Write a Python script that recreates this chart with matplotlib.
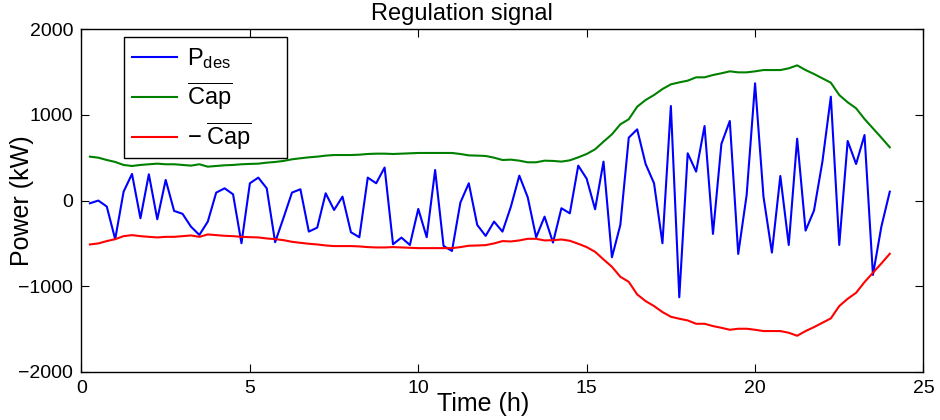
import numpy as np
import matplotlib
matplotlib.use("Agg")
import matplotlib.pyplot as plt
from matplotlib.patches import Rectangle

plt.rcParams['font.family'] = ['Liberation Sans', 'DejaVu Sans']
plt.rcParams['mathtext.fontset'] = 'custom'
plt.rcParams['mathtext.rm'] = 'Liberation Sans'
plt.rcParams['mathtext.it'] = 'Liberation Sans:italic'

# time grid: every 15 minutes from 0.25 h to 24 h
hours = np.arange(1, 97) * 0.25

p_des = [-32, 0, -70, -452, 104, 311, -207, 307, -219, 241, -121, -155,
         -305, -402, -246, 93, 143, 73, -499, 202, 268, 143, -487, -200,
         93, 132, -363, -316, 85, -110, 46, -370, -429, 268, 202, 386,
         -511, -433, -519, -98, -429, 357, -530, -589, -24, 202, -285, -413,
         -246, -363, -71, 291, 38, -429, -188, -491, -90, -149, 408, 255,
         -102, 455, -663, -285, 735, 832, 427, 202, -499, 1105, -1130, 552,
         338, 871, -390, 661, 930, -624, 65, 1370, 46, -608, 287, -519,
         723, -351, -117, 455, 1214, -519, 696, 427, 766, -869, -305, 104]

cap = [513, 501, 474, 451, 416, 404, 416, 424, 431, 424, 424, 416,
       408, 424, 396, 404, 412, 416, 424, 428, 431, 443, 451, 463,
       482, 494, 505, 513, 525, 532, 532, 532, 536, 544, 548, 548,
       544, 548, 552, 556, 556, 556, 556, 556, 544, 528, 525, 521,
       501, 474, 478, 466, 447, 447, 466, 463, 455, 470, 505, 544,
       599, 688, 774, 891, 950, 1097, 1175, 1233, 1303, 1358, 1381, 1401,
       1440, 1440, 1467, 1487, 1510, 1498, 1498, 1510, 1525, 1525, 1525, 1545,
       1580, 1525, 1479, 1428, 1377, 1233, 1148, 1078, 953, 844, 735, 622]

cap = np.array(cap)

fig = plt.figure(figsize=(9.4, 4.2), dpi=100)
ax = fig.add_axes([0.0867, 0.115, 0.8957, 0.815])

ax.plot(hours, p_des, color=(0, 0, 1), lw=1.5, label=r'$\mathrm{P_{des}}$')
ax.plot(hours, cap, color=(0, 0.5, 0), lw=1.5, label=r'$\mathrm{\overline{Cap}}$')
ax.plot(hours, -cap, color=(1, 0, 0), lw=1.5, label=r'$\mathrm{-\;\overline{Cap}}$')

ax.set_xlim(0, 25)
ax.set_ylim(-2000, 2000)
ax.set_xticks([0, 5, 10, 15, 20, 25])
ax.set_yticks([-2000, -1000, 0, 1000, 2000])
ax.tick_params(direction='in', length=6, width=0.8, top=True, right=True,
               labelsize=14, pad=6)
for s in ax.spines.values():
    s.set_linewidth(1.0)

ax.set_xlabel('Time (h)', fontsize=18)
ax.set_ylabel('Power (kW)', fontsize=18)
ax.xaxis.set_label_coords(0.477, -0.058)
ax.yaxis.set_label_coords(-0.056, 0.5)
ax.set_title('Regulation signal', fontsize=17, pad=7, x=0.452)

# MATLAB-style legend box (wider than its contents)
ax.add_patch(Rectangle((0.0505, 0.624), 0.1935, 0.3535, transform=ax.transAxes,
                       facecolor='white', edgecolor='black', lw=1.0, zorder=4))
leg = ax.legend(loc='upper left', bbox_to_anchor=(0.05, 0.975), borderaxespad=0,
                fontsize=17, frameon=False,
                handlelength=1.9, handletextpad=0.45, labelspacing=0.4,
                borderpad=0.35)
leg.set_zorder(5)

fig.savefig('out.png', dpi=100)
